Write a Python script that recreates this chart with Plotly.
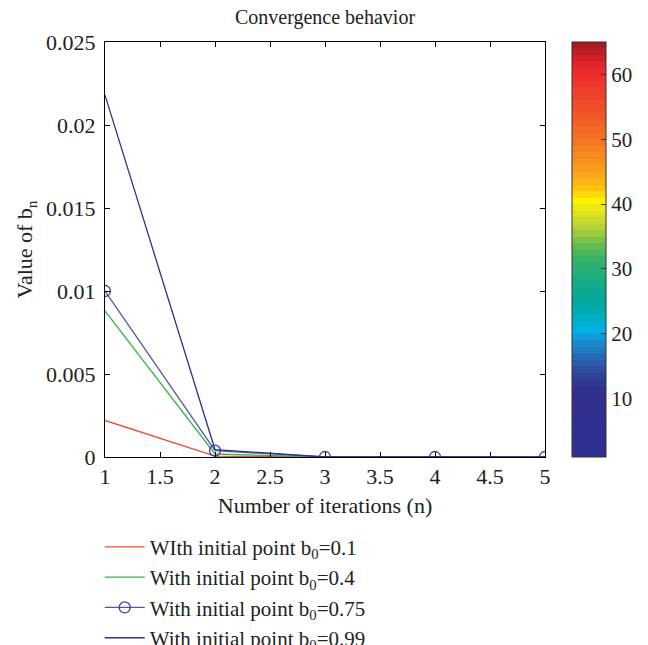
import plotly.graph_objects as go

# ---- data ----
iterations = [1, 2, 3, 4, 5]
b0_01 = [0.0022, 0.00005, 0.0, 0.0, 0.0]
b0_04 = [0.0088, 0.00018, 0.0, 0.0, 0.0]
b0_075 = [0.0100, 0.00038, 0.0, 0.0, 0.0]
b0_099 = [0.0218, 0.00045, 0.0, 0.0, 0.0]

series_names = [
    "WIth initial point b<sub>0</sub>=0.1",
    "With initial point b<sub>0</sub>=0.4",
    "With initial point b<sub>0</sub>=0.75",
    "With initial point b<sub>0</sub>=0.99",
]
colorbar_ticks = [10, 20, 30, 40, 50, 60]
colorbar_range = [1, 65]

# ---- stepped jet-like colour scale (64 bands) ----
anchors = [
    (1, "#2e3192"), (11, "#322f8e"), (13, "#2f3c94"), (15, "#2c55a4"),
    (17, "#2272b9"), (19, "#1691d2"), (20.5, "#00b0ea"), (22, "#00b0c8"),
    (25, "#00a99d"), (29, "#1fae7e"), (32, "#3db461"), (34, "#6fbe4c"),
    (36, "#abcf38"), (38, "#d5de25"), (40.5, "#fff200"), (42.5, "#fdc10f"),
    (45, "#f9a21b"), (48, "#f6851f"), (51, "#f26b23"), (55, "#ef4f2a"),
    (58, "#ee3a2d"), (60.5, "#ed2a2b"), (62.5, "#cf2027"), (65, "#981b1e"),
]


def hex2rgb(h):
    h = h.lstrip("#")
    return [int(h[i:i + 2], 16) for i in (0, 2, 4)]


def interp(v):
    for (v0, c0), (v1, c1) in zip(anchors[:-1], anchors[1:]):
        if v0 <= v <= v1:
            t = (v - v0) / (v1 - v0)
            a, b = hex2rgb(c0), hex2rgb(c1)
            return "rgb(%d,%d,%d)" % tuple(round(a[k] + t * (b[k] - a[k])) for k in range(3))
    return anchors[-1][1]


nb = 64
cscale = []
for i in range(nb):
    col = interp(colorbar_range[0] + (i + 0.5) * (colorbar_range[1] - colorbar_range[0]) / nb)
    cscale.append([i / nb, col])
    cscale.append([(i + 1) / nb, col])

FONT = "Liberation Serif, Times New Roman, serif"

fig = go.Figure()
fig.add_trace(go.Scatter(x=iterations, y=b0_01, mode="lines", name=series_names[0],
                         line=dict(color="#f04e30", width=1.3)))
fig.add_trace(go.Scatter(x=iterations, y=b0_04, mode="lines", name=series_names[1],
                         line=dict(color="#39b54a", width=1.3)))
fig.add_trace(go.Scatter(x=iterations, y=b0_075, mode="lines+markers", name=series_names[2],
                         line=dict(color="#5555aa", width=1.3),
                         marker=dict(symbol="circle-open", size=11, color="#3f3f9f",
                                     line=dict(width=1.3, color="#3f3f9f"))))
fig.add_trace(go.Scatter(x=iterations, y=b0_099, mode="lines", name=series_names[3],
                         line=dict(color="#2e3192", width=1.3)))

# colour bar carrier (no visible points)
fig.add_trace(go.Scatter(x=[None, None], y=[None, None], mode="markers", showlegend=False,
                         hoverinfo="skip",
                         marker=dict(color=colorbar_range, cmin=colorbar_range[0],
                                     cmax=colorbar_range[1], colorscale=cscale, showscale=True,
                                     colorbar=dict(x=1.0614, xanchor="left", xref="paper",
                                                   y=0.5, yanchor="middle", len=1, lenmode="fraction",
                                                   thickness=34, thicknessmode="pixels",
                                                   xpad=0, ypad=0, outlinewidth=1,
                                                   outlinecolor="#333333",
                                                   tickvals=colorbar_ticks, ticks="inside",
                                                   ticklen=5, tickcolor="#333333",
                                                   tickfont=dict(family=FONT, size=21, color="#222")))))

axis_common = dict(showline=True, linecolor="black", linewidth=1, mirror="ticks",
                   ticks="inside", ticklen=5, tickcolor="black", showgrid=False, zeroline=False,
                   tickfont=dict(family=FONT, size=22, color="#222"))

fig.update_xaxes(range=[1, 5], dtick=0.5, tick0=1, ticklabelstandoff=0,
                 title=dict(text="Number of iterations (n)", standoff=9,
                            font=dict(family=FONT, size=22, color="#222")),
                 **axis_common)
fig.update_yaxes(range=[0, 0.025], dtick=0.005, tick0=0, ticklabelstandoff=4,
                 title=dict(text="Value of b<sub>n</sub>", standoff=7,
                            font=dict(family=FONT, size=22, color="#222")),
                 **axis_common)

fig.update_layout(
    width=648, height=645,
    margin=dict(l=105, r=103, t=42, b=188, autoexpand=False),
    paper_bgcolor="white", plot_bgcolor="white",
    title=dict(text="Convergence behavior", x=0.5, xref="paper", xanchor="center",
               y=1 - 17 / 645, yref="container", yanchor="middle",
               font=dict(family=FONT, size=20, color="#222")),
    legend=dict(x=-0.012, xanchor="left", y=-0.168, yanchor="top",
                font=dict(family=FONT, size=21, color="#222"),
                bgcolor="rgba(0,0,0,0)", itemwidth=40, tracegroupgap=0),
    showlegend=True,
)

fig.write_html("out.html", config={"displayModeBar": False},
               post_script="document.body.style.margin='0px';")
